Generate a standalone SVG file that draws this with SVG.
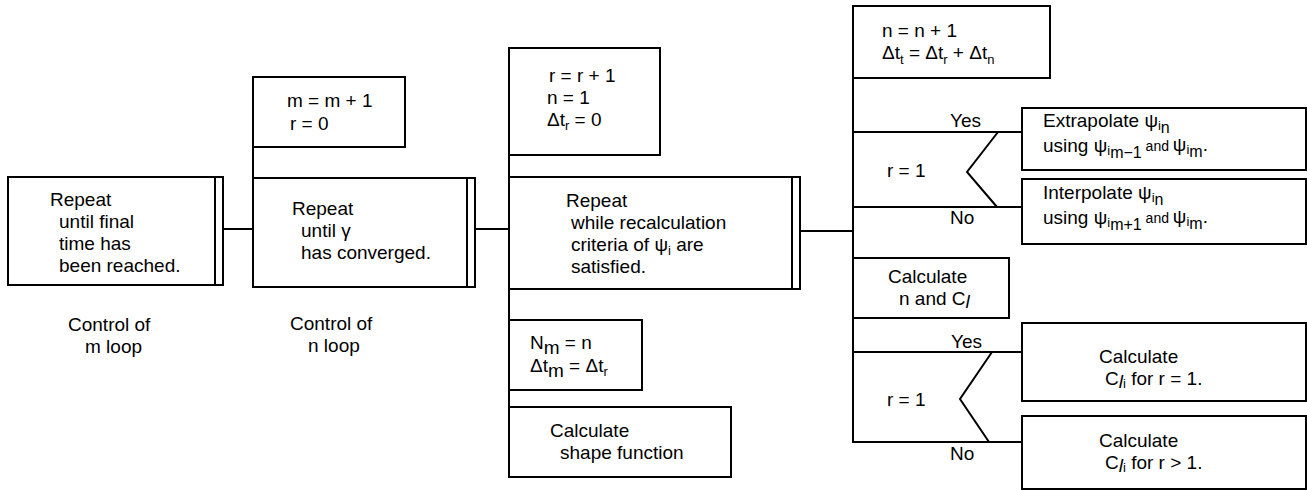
<svg xmlns="http://www.w3.org/2000/svg" width="1307" height="490" viewBox="0 0 1307 490">
<style>
.t{font-family:"Liberation Sans",Arial,Helvetica,sans-serif;font-size:19px;fill:#000}
.b{fill:#fff;stroke:#000;stroke-width:2}
.l{fill:none;stroke:#000;stroke-width:2}
.s{font-size:13px}
.m{font-size:16px}
.a{font-size:14px}
</style>
<rect width="1307" height="490" fill="#fff"/>
<g id="connectors" class="l">
<path d="M223,229H253"/>
<path d="M253,77V178"/>
<path d="M475,229H509"/>
<path d="M509,48V477"/>
<path d="M800,231H853"/>
<path d="M853,6V442"/>
<path d="M853,132H1022"/>
<path d="M853,207H1022"/>
<path d="M853,352H1022"/>
<path d="M852,442H1022"/>
</g>
<g id="labels">
<text class="t" x="950" y="127">Yes</text>
<text class="t" x="950" y="224">No</text>
<text class="t" x="951" y="348">Yes</text>
<text class="t" x="950" y="460">No</text>
</g>
<g id="m-loop">
<rect class="b" x="8" y="177" width="215" height="108"/>
<path class="l" d="M215,177V285"/>
<text class="t" x="50" y="206">Repeat</text>
<text class="t" x="59" y="228">until final</text>
<text class="t" x="59" y="250">time has</text>
<text class="t" x="59" y="272">been reached.</text>
<text class="t" x="68" y="331">Control of</text>
<text class="t" x="85" y="353">m loop</text>
</g>
<g id="m-init">
<rect class="b" x="253" y="77" width="152" height="70"/>
<text class="t" x="287" y="107">m = m + 1</text>
<text class="t" x="290" y="130">r  = 0</text>
</g>
<g id="n-loop">
<rect class="b" x="253" y="178" width="222" height="109"/>
<path class="l" d="M467,178V287"/>
<text class="t" x="292" y="215">Repeat</text>
<text class="t" x="301" y="237">until γ</text>
<text class="t" x="301" y="259">has converged.</text>
<text class="t" x="290" y="330">Control of</text>
<text class="t" x="308" y="352">n loop</text>
</g>
<g id="r-init">
<rect class="b" x="509" y="48" width="151" height="107"/>
<text class="t" x="549" y="82">r = r + 1</text>
<text class="t" x="547" y="104">n = 1</text>
<text class="t" x="547" y="126">Δt<tspan class="s" dy="4">r</tspan><tspan dy="-4"> = 0</tspan></text>
</g>
<g id="r-loop">
<rect class="b" x="509" y="177" width="291" height="112"/>
<path class="l" d="M792,177V289"/>
<text class="t" x="566" y="207">Repeat</text>
<text class="t" x="571" y="229">while recalculation</text>
<text class="t" x="571" y="251">criteria of ψ<tspan class="s" dy="4">i</tspan><tspan dy="-4"> are</tspan></text>
<text class="t" x="571" y="273">satisfied.</text>
</g>
<g id="store">
<rect class="b" x="509" y="320" width="133" height="70"/>
<text class="t" x="530" y="349">N<tspan dy="5">m</tspan><tspan dy="-5"> = n</tspan></text>
<text class="t" x="530" y="372">Δt<tspan dy="5">m</tspan><tspan dy="-5"> = Δt</tspan><tspan class="s" dy="4">r</tspan></text>
</g>
<g id="shape">
<rect class="b" x="509" y="407" width="222" height="70"/>
<text class="t" x="550" y="437">Calculate</text>
<text class="t" x="560" y="459">shape function</text>
</g>
<g id="n-init">
<rect class="b" x="853" y="6" width="197" height="72"/>
<text class="t" x="882" y="37">n = n + 1</text>
<text class="t" x="882" y="59">Δt<tspan class="s" dy="5">t</tspan><tspan dy="-5"> = Δt</tspan><tspan class="s" dy="5">r</tspan><tspan dy="-5"> + Δt</tspan><tspan class="s" dy="5">n</tspan></text>
</g>
<g id="decision1">
<polyline class="l" points="998,132 967,172 997,207"/>
<text class="t" x="887" y="177">r = 1</text>
</g>
<g id="extrapolate">
<rect class="b" x="1022" y="108" width="284" height="62"/>
<text class="t" x="1043" y="127">Extrapolate ψ<tspan class="s" dy="3">i</tspan><tspan class="m" dy="3">n</tspan></text>
<text class="t" x="1043" y="152">using ψ<tspan class="s" dy="3">i</tspan><tspan class="m" dy="3">m−1</tspan><tspan class="a" dy="-7"> and </tspan><tspan>ψ</tspan><tspan class="s" dy="3">i</tspan><tspan class="m" dy="3">m</tspan><tspan dy="-6">.</tspan></text>
</g>
<g id="interpolate">
<rect class="b" x="1022" y="179" width="284" height="65"/>
<text class="t" x="1043" y="199">Interpolate ψ<tspan class="s" dy="3">i</tspan><tspan class="m" dy="3">n</tspan></text>
<text class="t" x="1043" y="224">using ψ<tspan class="s" dy="3">i</tspan><tspan class="m" dy="3">m+1</tspan><tspan class="a" dy="-7"> and </tspan><tspan>ψ</tspan><tspan class="s" dy="3">i</tspan><tspan class="m" dy="3">m</tspan><tspan dy="-6">.</tspan></text>
</g>
<g id="calc-n">
<rect class="b" x="853" y="258" width="156" height="60"/>
<text class="t" x="888" y="283">Calculate</text>
<text class="t" x="899" y="305">n and C<tspan dy="3" font-style="italic">l</tspan></text>
</g>
<g id="decision2">
<polyline class="l" points="992,352 960,399 989,442"/>
<text class="t" x="887" y="406">r = 1</text>
</g>
<g id="calc-c1">
<rect class="b" x="1022" y="323" width="284" height="78"/>
<text class="t" x="1099" y="363">Calculate</text>
<text class="t" x="1105" y="385">C<tspan dy="3" font-style="italic">l</tspan><tspan class="s">i</tspan><tspan dy="-3"> for r = 1.</tspan></text>
</g>
<g id="calc-c2">
<rect class="b" x="1022" y="416" width="284" height="73"/>
<text class="t" x="1099" y="447">Calculate</text>
<text class="t" x="1105" y="469">C<tspan dy="3" font-style="italic">l</tspan><tspan class="s">i</tspan><tspan dy="-3"> for r &gt; 1.</tspan></text>
</g>
</svg>
